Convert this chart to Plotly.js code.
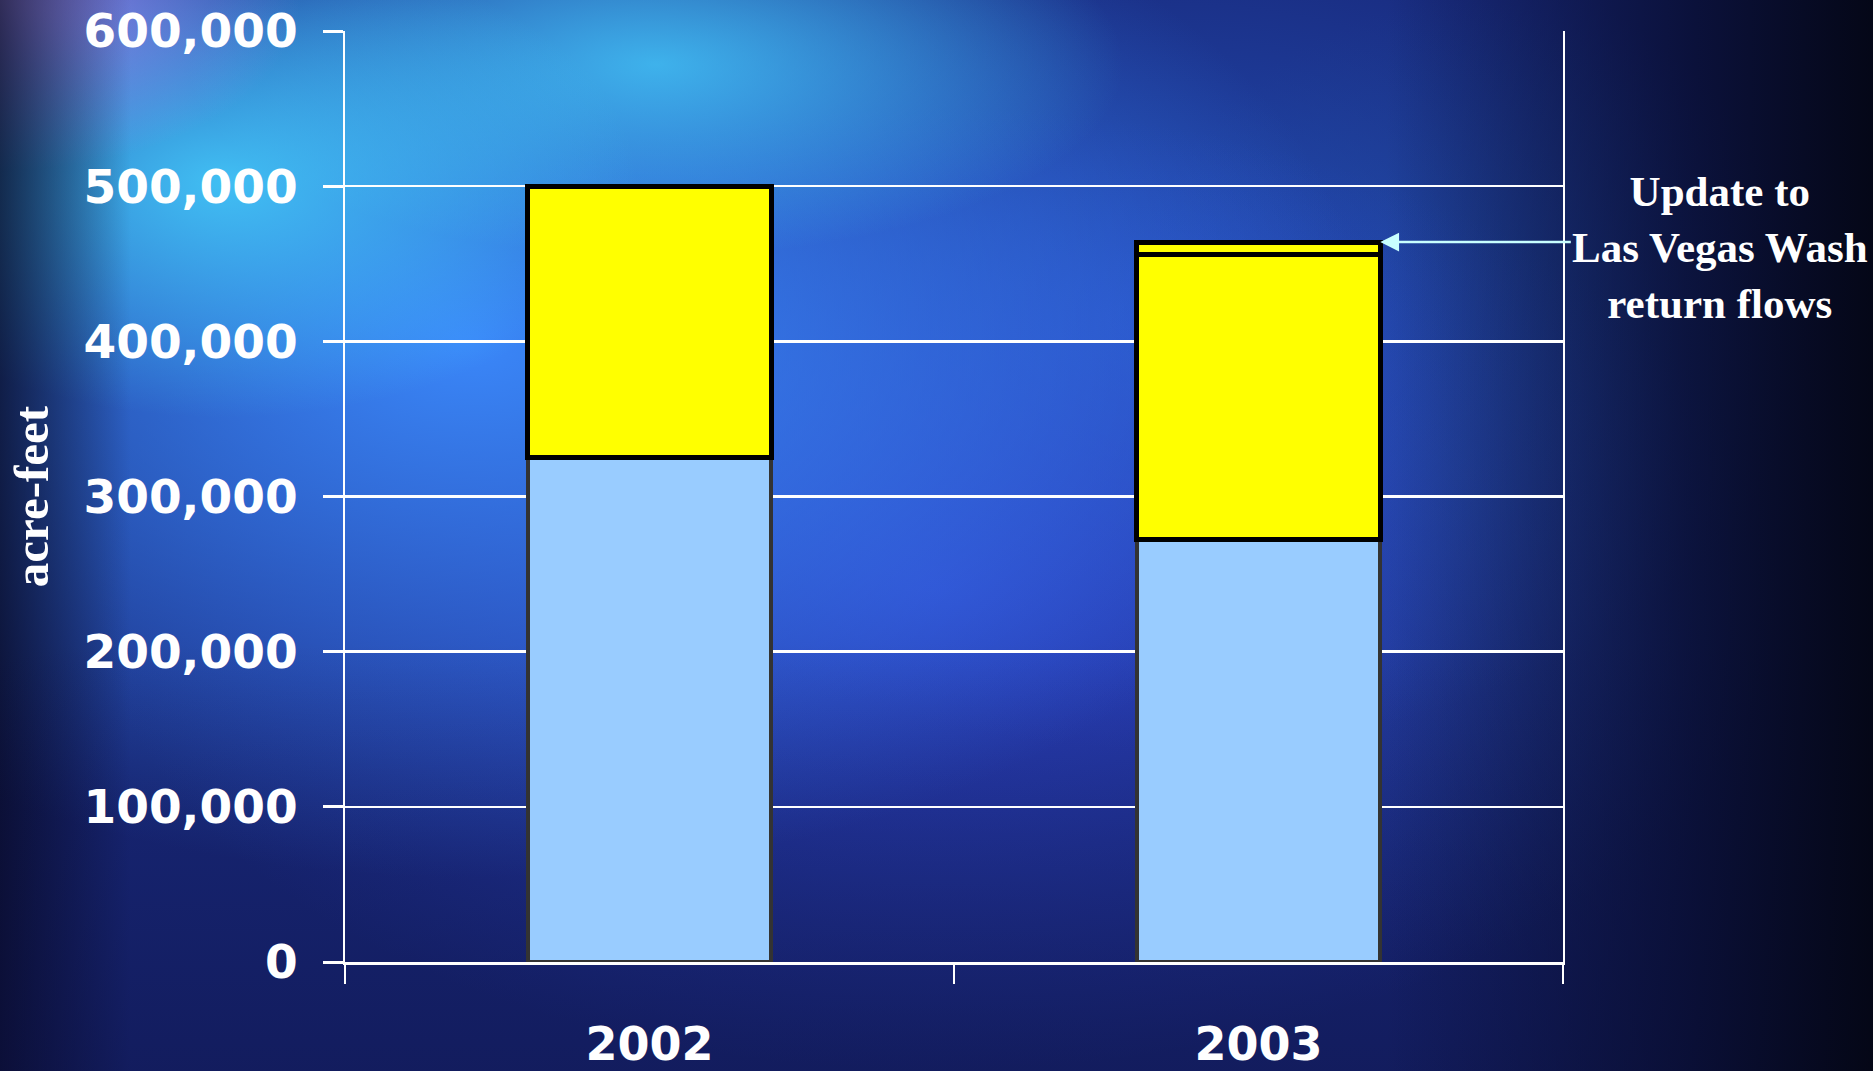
<!DOCTYPE html>
<html>
<head>
<meta charset="utf-8">
<script src="https://cdn.plot.ly/plotly-3.0.1.min.js"></script>
<style>
  html, body { margin: 0; padding: 0; width: 1873px; height: 1071px; overflow: hidden; }
  body {
    background:
      linear-gradient(to right, rgba(6,8,30,0) 0%, rgba(6,8,30,0) 74%, rgba(8,12,45,0.8) 90%, rgba(4,6,20,0.97) 100%),
      linear-gradient(to bottom, rgba(10,12,50,0) 0%, rgba(10,12,50,0) 60%, rgba(12,14,60,0.45) 100%),
      linear-gradient(to right, rgba(6,6,25,0.7) 0%, rgba(6,6,25,0) 7%),
      radial-gradient(ellipse 16% 16% at 0% 0%, rgba(170,150,255,0.85), rgba(170,150,255,0)),
      radial-gradient(ellipse 22% 22% at 12% 17%, rgba(70,215,255,0.8), rgba(70,215,255,0)),
      radial-gradient(ellipse 25% 18% at 35% 6%, rgba(70,210,255,0.75), rgba(70,210,255,0)),
      radial-gradient(ellipse 48% 50% at 25% 32%, rgba(60,140,255,0.95), rgba(60,140,255,0)),
      radial-gradient(ellipse 45% 45% at 50% 55%, rgba(48,72,210,0.85), rgba(48,72,210,0)),
      radial-gradient(ellipse 35% 40% at 62% 30%, rgba(40,95,210,0.7), rgba(40,95,210,0)),
      radial-gradient(ellipse 20% 45% at 78% 45%, rgba(30,70,130,0.6), rgba(30,70,130,0)),
      #18287a;
  }
  #chart { width: 1873px; height: 1071px; }
</style>
</head>
<body>
<div id="chart"></div>
<script>
// Data (acre-feet)
const years = ['2002', '2003'];
const baseValues = [325000, 272000];     // light blue segment
const yellowValues = [175000, 184000];   // yellow segment
const updateValues = [null, 8000];       // update to Las Vegas Wash return flows
const yTickVals = [0, 100000, 200000, 300000, 400000, 500000, 600000];
const yTickText = ['0', '100,000', '200,000', '300,000', '400,000', '500,000', '600,000'];
const yTitle = 'acre-feet';
const noteText = 'Update to<br>Las Vegas Wash<br>return flows';

const traces = [
  {
    type: 'bar', x: years, y: baseValues, width: 0.4,
    marker: { color: '#99ccff', line: { color: '#333333', width: 4 } },
    hoverinfo: 'skip', showlegend: false
  },
  {
    type: 'bar', x: years, y: yellowValues, width: 0.4,
    marker: { color: '#ffff00', line: { color: '#000000', width: 5 } },
    hoverinfo: 'skip', showlegend: false
  },
  {
    type: 'bar', x: years, y: updateValues, width: 0.4,
    marker: { color: '#ffff00', line: { color: '#000000', width: 5 } },
    hoverinfo: 'skip', showlegend: false
  }
];

const layout = {
  width: 1873, height: 1071,
  margin: { l: 345, r: 310, t: 31, b: 109 },
  paper_bgcolor: 'rgba(0,0,0,0)',
  plot_bgcolor: 'rgba(0,0,0,0)',
  barmode: 'stack',
  showlegend: false,
  xaxis: {
    type: 'category',
    range: [-0.5, 1.5],
    showline: true, linecolor: '#ffffff', linewidth: 3,
    ticks: 'outside', tickson: 'boundaries', ticklen: 19, tickwidth: 2, tickcolor: '#ffffff',
    showgrid: false, zeroline: false,
    ticklabelstandoff: 40,
    tickfont: { family: 'DejaVu Sans', size: 46, color: '#ffffff', weight: 'bold' }
  },
  yaxis: {
    range: [0, 600000],
    tickmode: 'array', tickvals: yTickVals, ticktext: yTickText,
    showline: true, linecolor: '#ffffff', linewidth: 2, mirror: true,
    ticks: 'outside', ticklen: 20, tickwidth: 3, tickcolor: '#ffffff',
    showgrid: true, gridcolor: '#ffffff', gridwidth: 2.5,
    zeroline: false,
    ticklabelstandoff: 16,
    tickfont: { family: 'DejaVu Sans', size: 47, color: '#ffffff', weight: 'bold' },
    title: {
      text: yTitle, standoff: 19,
      font: { family: 'Liberation Serif', size: 49, color: '#ffffff', weight: 'bold' }
    }
  },
  annotations: [
    {
      xref: 'x', yref: 'y', x: 1.2, y: 464000,
      ax: 192, ay: 0, axref: 'pixel', ayref: 'pixel',
      text: '', showarrow: true,
      arrowhead: 2, arrowsize: 1.5, arrowwidth: 2.5, arrowcolor: '#c8ffff'
    },
    {
      xref: 'paper', yref: 'paper', x: 1.129, y: 0.767,
      xanchor: 'center', yanchor: 'middle',
      text: noteText, showarrow: false, align: 'center',
      font: { family: 'Liberation Serif', size: 43, color: '#ffffff', weight: 'bold' }
    }
  ]
};

Plotly.newPlot('chart', traces, layout, { displayModeBar: false, staticPlot: true });
</script>
</body>
</html>
